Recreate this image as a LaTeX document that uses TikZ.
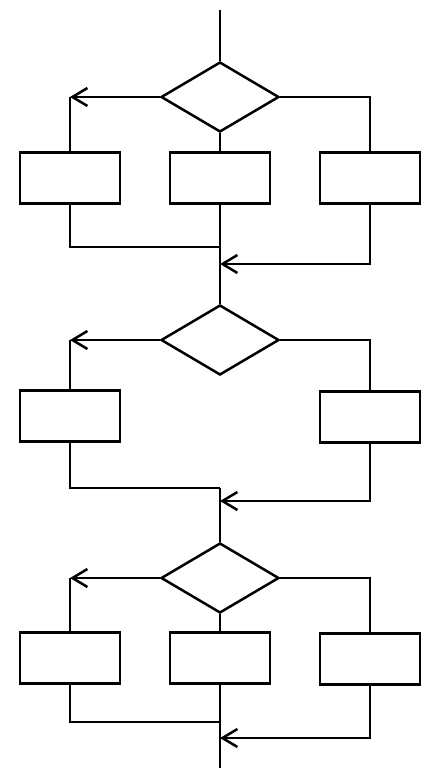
\documentclass[tikz,border=0pt]{standalone}
\usetikzlibrary{shapes.geometric,arrows.meta}
\begin{document}
\begin{tikzpicture}[x=1pt,y=-1pt,line width=2.5pt,line join=miter,
  dec/.style={draw,line width=2.5pt,shape=diamond,inner sep=0pt,minimum width=118pt,minimum height=70pt,shape aspect=1.7},
  proc/.style={draw,line width=2.5pt,rectangle,inner sep=0pt,minimum width=100pt,minimum height=51pt},
  flow/.style={-{Straight Barb[length=15pt,width=18pt,line width=2.5pt]}}]
\useasboundingbox (0,0) rectangle (440,783);
% block 1
\coordinate (s) at (220,10);
\node[dec] (d1) at (220,97) {};
\node[proc] (l1) at (70,178) {};
\node[proc] (m1) at (220,178) {};
\node[proc] (r1) at (370,178) {};
\coordinate (a1) at (70,97);
\coordinate (j1) at (220,247);
\coordinate (k1) at (220,264);
\draw (s) -- (d1.north);
\draw[flow] (d1.west) -- (a1);
\draw (a1) -- (l1.north);
\draw (d1.east) -| (r1.north);
\draw (d1.south) -- (m1.north);
\draw (l1.south) |- (j1);
\draw[flow] (r1.south) |- (k1);
% block 2
\node[dec] (d2) at (220,340) {};
\node[proc] (l2) at (70,416) {};
\node[proc] (r2) at (370,417) {};
\coordinate (a2) at (70,340);
\coordinate (j2) at (220,488);
\coordinate (k2) at (220,501);
\draw (m1.south) -- (d2.north);
\draw[flow] (d2.west) -- (a2);
\draw (a2) -- (l2.north);
\draw (d2.east) -| (r2.north);
\draw (l2.south) |- (j2);
\draw[flow] (r2.south) |- (k2);
% block 3
\node[dec] (d3) at (220,578) {};
\node[proc] (l3) at (70,658) {};
\node[proc] (m3) at (220,658) {};
\node[proc] (r3) at (370,659) {};
\coordinate (a3) at (70,578);
\coordinate (j3) at (220,722);
\coordinate (k3) at (220,738);
\coordinate (e) at (220,768);
\draw (j2) -- (d3.north);
\draw[flow] (d3.west) -- (a3);
\draw (a3) -- (l3.north);
\draw (d3.east) -| (r3.north);
\draw (d3.south) -- (m3.north);
\draw (l3.south) |- (j3);
\draw[flow] (r3.south) |- (k3);
\draw (m3.south) -- (e);
\end{tikzpicture}
\end{document}
